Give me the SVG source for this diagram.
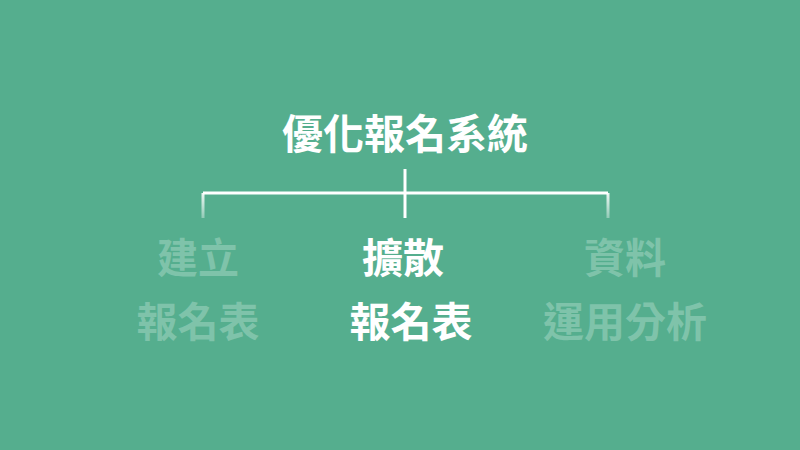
<svg xmlns="http://www.w3.org/2000/svg" width="800" height="450" viewBox="0 0 800 450">
<style>
text{font-family:"Noto Sans CJK TC","Noto Sans CJK SC",sans-serif;font-weight:700;font-size:41px;text-anchor:middle}
.on{fill:#ffffff}
.off{fill:#7fc3aa}
.ln{stroke:#ffffff;stroke-width:3;fill:none}
</style>
<defs>
<linearGradient id="fade" x1="0" y1="193" x2="0" y2="218" gradientUnits="userSpaceOnUse">
<stop offset="0" stop-color="#ffffff" stop-opacity="0.9"/>
<stop offset="1" stop-color="#ffffff" stop-opacity="0.35"/>
</linearGradient>
</defs>
<rect width="800" height="450" fill="#55ae8e"/>
<g id="connectors">
<line class="ln" x1="203" y1="193" x2="608" y2="193"/>
<line class="ln" x1="405" y1="169" x2="405" y2="218"/>
<line x1="203" y1="193" x2="203" y2="218" stroke="url(#fade)" stroke-width="3"/>
<line x1="608" y1="193" x2="608" y2="218" stroke="url(#fade)" stroke-width="3"/>
</g>
<g id="root"><text class="on" x="405" y="149">優化報名系統</text></g>
<g id="node-left"><text class="off" x="198" y="273">建立</text><text class="off" x="198" y="337">報名表</text></g>
<g id="node-mid"><text class="on" x="403" y="273">擴散</text><text class="on" x="411" y="337">報名表</text></g>
<g id="node-right"><text class="off" x="625" y="273">資料</text><text class="off" x="625" y="337">運用分析</text></g>
</svg>
